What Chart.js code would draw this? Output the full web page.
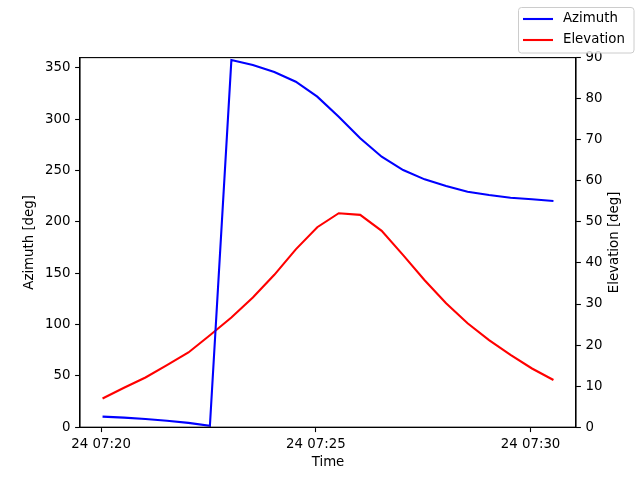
<!DOCTYPE html>
<html lang="en">
<head>
    <meta charset="UTF-8">
    <title>Azimuth / Elevation</title>
    <script src="https://cdn.jsdelivr.net/npm/chart.js"></script>
    <style>
        body {
            margin: 0;
            background: #fff;
        }

        #chart {
            display: block;
        }
    </style>
</head>
<body>
    <canvas id="chart" width="640" height="480"></canvas>

    <script>
        // sample times (HH:MM:SS), day 24
        const dayLabel = '24';
        const times = [
            '07:20:02', '07:20:32', '07:21:02', '07:21:32', '07:22:02', '07:22:32',
            '07:23:02', '07:23:32', '07:24:02', '07:24:32', '07:25:02', '07:25:32',
            '07:26:02', '07:26:32', '07:27:02', '07:27:32', '07:28:02', '07:28:32',
            '07:29:02', '07:29:32', '07:30:02', '07:30:32'
        ];
        const azimuth = [
            10.3, 9.3, 8.0, 6.3, 4.2, 1.4, 357.6, 352.8, 346.0, 336.5, 322.0,
            302.4, 281.4, 263.5, 250.5, 241.4, 234.9, 229.4, 226.2, 223.5, 222.0, 220.3
        ];
        const elevation = [
            7.0, 9.6, 12.1, 15.1, 18.2, 22.4, 26.7, 31.6, 37.1, 43.3, 48.7,
            52.1, 51.7, 47.8, 41.9, 35.8, 30.2, 25.3, 21.2, 17.6, 14.3, 11.5
        ];
        const xTickTimes = ['07:20', '07:25', '07:30'];
        const azTicks = [0, 50, 100, 150, 200, 250, 300, 350];
        const elTicks = [0, 10, 20, 30, 40, 50, 60, 70, 80, 90];

        // minutes since 07:20
        const toMin = (s) => {
            const p = s.split(':').map(Number);
            return (p[0] - 7) * 60 + p[1] - 20 + (p[2] || 0) / 60;
        };
        const fmt = (m) => {
            const total = Math.round(m + 7 * 60 + 20);
            const hh = String(Math.floor(total / 60)).padStart(2, '0');
            const mm = String(total % 60).padStart(2, '0');
            return dayLabel + ' ' + hh + ':' + mm;
        };

        const xs = times.map(toMin);
        const xMin = xs[0] - 0.05 * (xs[xs.length - 1] - xs[0]);
        const xMax = xs[xs.length - 1] + 0.05 * (xs[xs.length - 1] - xs[0]);

        const FONT = "'DejaVu Sans', sans-serif";
        Chart.defaults.font.family = FONT;
        Chart.defaults.font.size = 13.33;
        Chart.defaults.color = '#000';

        const tickGrid = {
            drawOnChartArea: false,
            drawTicks: true,
            tickLength: 4.9,
            tickWidth: 1.1,
            tickColor: '#000'
        };
        const border = { color: '#000', width: 1.1 };

        // spines, right axis title (bottom-to-top like the left one), figure legend
        const framePlugin = {
            id: 'frame',
            afterDraw(chart) {
                const { ctx, chartArea: a } = chart;
                ctx.save();
                ctx.strokeStyle = '#000';
                ctx.lineWidth = 1.1;
                ctx.strokeRect(a.left, a.top, a.right - a.left, a.bottom - a.top);

                ctx.font = '13.33px ' + FONT;
                ctx.fillStyle = '#000';
                ctx.textAlign = 'center';
                ctx.textBaseline = 'middle';
                ctx.save();
                ctx.translate(615, (a.top + a.bottom) / 2);
                ctx.rotate(-Math.PI / 2);
                ctx.fillText('Elevation [deg]', 0, 0);
                ctx.restore();

                const lx = 518.5, ly = 7.5, lw = 115.5, lh = 45.5;
                ctx.beginPath();
                ctx.roundRect(lx, ly, lw, lh, 3);
                ctx.fillStyle = 'rgba(255,255,255,0.8)';
                ctx.fill();
                ctx.strokeStyle = '#cccccc';
                ctx.lineWidth = 1;
                ctx.stroke();

                ctx.textAlign = 'left';
                chart.data.datasets.forEach((ds, i) => {
                    const y = 19 + i * 21;
                    ctx.strokeStyle = ds.borderColor;
                    ctx.lineWidth = 2.1;
                    ctx.beginPath();
                    ctx.moveTo(523, y);
                    ctx.lineTo(553, y);
                    ctx.stroke();
                    ctx.fillStyle = '#000';
                    ctx.fillText(ds.label, 563, y);
                });
                ctx.restore();
            }
        };

        new Chart(document.getElementById('chart'), {
            type: 'line',
            data: {
                datasets: [
                    {
                        label: 'Azimuth',
                        data: xs.map((x, i) => ({ x: x, y: azimuth[i] })),
                        borderColor: '#0000ff',
                        borderWidth: 2.1,
                        pointRadius: 0,
                        tension: 0,
                        yAxisID: 'yAz'
                    },
                    {
                        label: 'Elevation',
                        data: xs.map((x, i) => ({ x: x, y: elevation[i] })),
                        borderColor: '#ff0000',
                        borderWidth: 2.1,
                        pointRadius: 0,
                        tension: 0,
                        yAxisID: 'yEl'
                    }
                ]
            },
            options: {
                responsive: false,
                animation: false,
                devicePixelRatio: 1,
                layout: { padding: { top: 57.6, left: 0, right: 0, bottom: 0 } },
                plugins: {
                    legend: { display: false },
                    tooltip: { enabled: false }
                },
                scales: {
                    x: {
                        type: 'linear',
                        min: xMin,
                        max: xMax,
                        grid: tickGrid,
                        border: border,
                        afterBuildTicks: (s) => { s.ticks = xTickTimes.map(t => ({ value: toMin(t) })); },
                        afterFit: (s) => { s.height = 52.8; },
                        ticks: { padding: 4.7, maxRotation: 0, callback: (v) => fmt(v) },
                        title: { display: true, text: 'Time', padding: { top: 0, bottom: 9.5 } }
                    },
                    yAz: {
                        position: 'left',
                        min: 0,
                        max: 360,
                        grid: tickGrid,
                        border: border,
                        afterBuildTicks: (s) => { s.ticks = azTicks.map(v => ({ value: v })); },
                        afterFit: (s) => { s.width = 80; },
                        ticks: { padding: 4.7 },
                        title: { display: true, text: 'Azimuth [deg]', padding: { top: 22, bottom: 0 } }
                    },
                    yEl: {
                        position: 'right',
                        min: 0,
                        max: 90,
                        grid: tickGrid,
                        border: border,
                        afterBuildTicks: (s) => { s.ticks = elTicks.map(v => ({ value: v })); },
                        afterFit: (s) => { s.width = 64; },
                        ticks: { padding: 4.7 }
                    }
                }
            },
            plugins: [framePlugin]
        });
    </script>
</body>
</html>
